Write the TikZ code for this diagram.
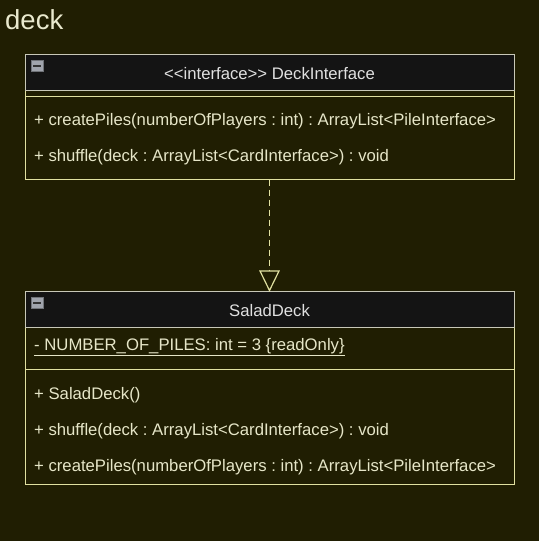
\documentclass[tikz,border=0pt]{standalone}
\usepackage{fontspec}
\setmainfont{Liberation Sans}
\frenchspacing
\definecolor{bg}{HTML}{201E02}
\definecolor{hdr}{HTML}{141414}
\definecolor{hdrline}{HTML}{C8C8B8}
\definecolor{bodyline}{HTML}{E0E0A0}
\definecolor{txt}{HTML}{E6E6C8}
\definecolor{htxt}{HTML}{E0E0E0}
\definecolor{icon}{HTML}{A0A4AC}
\begin{document}
\begin{tikzpicture}[x=1pt,y=-1pt,
  header/.style={draw=hdrline,fill=hdr,line width=1pt},
  body/.style={draw=bodyline,line width=1pt},
  lbl/.style={text=txt,font=\fontsize{16.7}{19}\selectfont,anchor=west,inner sep=0pt},
  htitle/.style={text=htxt,font=\fontsize{16.7}{19}\selectfont,inner sep=0pt},
  iconbox/.style={fill=icon,draw=icon!70!black,line width=0.5pt},
  realize/.style={draw=bodyline,line width=1.2pt,dash pattern=on 6pt off 4pt}]
\fill[bg] (0,0) rectangle (539,541);
\useasboundingbox (0,0) rectangle (539,541);
\node[text=txt!90!white,font=\fontsize{27.5}{32}\selectfont,anchor=west,inner sep=0pt] (pkg) at (5,19.5) {deck};
% DeckInterface
\draw[body] (25,90) rectangle (514,179);
\draw[body] (25,96) -- (514,96);
\draw[header] (25,54) rectangle (514,90);
\fill[iconbox] (31,60) rectangle (43,71);
\fill[black!80] (33,65) rectangle (41,66.5);
\node[htitle] (ititle) at (269.5,73.5) {{<}{<}interface{>}{>} DeckInterface};
\node[lbl] (im1) at (34,121.5) {+ createPiles(numberOfPlayers : int) : ArrayList<PileInterface>};
\node[lbl] (im2) at (34,157.5) {+ shuffle(deck : ArrayList<CardInterface>) : void};
\coordinate (ibot) at (269.5,179.5);
% SaladDeck
\draw[body] (25,327) rectangle (514,484);
\draw[body] (25,369) -- (514,369);
\draw[header] (25,291) rectangle (514,327);
\fill[iconbox] (31,297) rectangle (43,308);
\fill[black!80] (33,302) rectangle (41,303.5);
\node[htitle] (stitle) at (269.5,311) {SaladDeck};
\node[lbl] (sa1) at (34,347.5) {\underline{- NUMBER\_OF\_PILES: int = 3 \{readOnly\}}};
\node[lbl] (sm1) at (34,395.5) {+ SaladDeck()};
\node[lbl] (sm2) at (34,431.5) {+ shuffle(deck : ArrayList<CardInterface>) : void};
\node[lbl] (sm3) at (34,467.5) {+ createPiles(numberOfPlayers : int) : ArrayList<PileInterface>};
\coordinate (stop) at (269.5,290.5);
\coordinate (tri) at (269.5,271);
% realization
\draw[realize] (ibot) -- (tri);
\draw[bodyline,line width=1.2pt,fill=bg,line join=miter] (260,271) -- (279,271) -- (stop) -- cycle;
\end{tikzpicture}
\end{document}
